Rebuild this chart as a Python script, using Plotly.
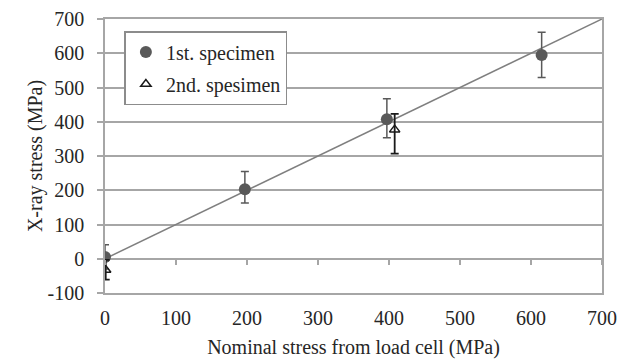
import plotly.graph_objects as go

# Data
s1_x = [0, 197, 397, 615]
s1_y = [5, 203, 407, 595]
s1_err_plus = [36, 52, 60, 66]
s1_err_minus = [35, 40, 54, 66]

s2_x = [1, 408]
s2_y = [-33, 377]
s2_err_plus = [30, 46]
s2_err_minus = [28, 70]

ref_x = [0, 700]
ref_y = [0, 700]

x_ticks = [0, 100, 200, 300, 400, 500, 600, 700]
y_ticks = [-100, 0, 100, 200, 300, 400, 500, 600, 700]
y_tick_labels = ["-100", "0", "100", "200", "300", "400", "500", "600", "700"]

FONT = "Times New Roman, Liberation Serif, DejaVu Serif, serif"
GRID = "#a6a6a6"
TXT = "#262626"

fig = go.Figure()

fig.add_trace(go.Scatter(
    x=ref_x, y=ref_y, mode="lines",
    line=dict(color="#7f7f7f", width=1.5),
    showlegend=False, hoverinfo="skip"))

fig.add_trace(go.Scatter(
    x=s1_x, y=s1_y, mode="markers", name="1st. specimen",
    legendgroup="a",
    marker=dict(symbol="circle", size=12, color="#595959"),
    error_y=dict(type="data", array=s1_err_plus, arrayminus=s1_err_minus,
                 color="#595959", thickness=1.5, width=4)))

fig.add_trace(go.Scatter(
    x=s2_x, y=s2_y, mode="markers", name="2nd. spesimen",
    legendgroup="b",
    marker=dict(symbol="triangle-up-open", size=9, color="#1a1a1a",
                line=dict(width=1.5, color="#1a1a1a")),
    error_y=dict(type="data", array=s2_err_plus, arrayminus=s2_err_minus,
                 color="#1a1a1a", thickness=1.8, width=4)))

# invisible trace to drive the secondary x axis (tick marks on y=0)
fig.add_trace(go.Scatter(x=ref_x, y=ref_y, xaxis="x2", mode="none",
                         showlegend=False, hoverinfo="skip"))

fig.update_layout(
    width=621, height=351,
    margin=dict(l=96.5, r=26.5, t=11, b=66),
    paper_bgcolor="white", plot_bgcolor="white",
    font=dict(family=FONT, size=20, color=TXT),
    showlegend=True,
    legend=dict(x=0.039, y=0.956, xanchor="left", yanchor="top",
                bgcolor="white", bordercolor="#8c8c8c", borderwidth=1.5,
                font=dict(family=FONT, size=20, color=TXT),
                traceorder="grouped", tracegroupgap=3,
                itemwidth=30),
    xaxis=dict(range=[0, 700], tickvals=x_ticks, ticks="", showgrid=False,
               zeroline=False, showline=True, linecolor=GRID, linewidth=1.5,
               mirror=True, ticklabelstandoff=6, automargin=False,
               tickfont=dict(family=FONT, size=20, color=TXT),
               title=dict(text="Nominal stress from load cell (MPa)",
                          font=dict(family=FONT, size=20, color=TXT),
                          standoff=12)),
    xaxis2=dict(range=[0, 700], overlaying="x", anchor="free",
                position=0.125, side="bottom", tickvals=x_ticks,
                ticks="outside", ticklen=5, tickwidth=1.5, tickcolor=GRID,
                showticklabels=False, showgrid=False, zeroline=False,
                showline=False, automargin=False),
    yaxis=dict(range=[-100, 700], tickvals=y_ticks, ticktext=y_tick_labels,
               ticks="outside",
               ticklen=6, tickwidth=1.5, tickcolor=GRID,
               showgrid=True, gridcolor=GRID, gridwidth=1.5,
               zeroline=False, showline=True, linecolor=GRID, linewidth=1.5,
               mirror=True, ticklabelstandoff=9, automargin=False,
               tickfont=dict(family=FONT, size=20, color=TXT),
               title=dict(text="X-ray stress (MPa)",
                          font=dict(family=FONT, size=20, color=TXT),
                          standoff=0)),
)

fig.write_html("out.html")
